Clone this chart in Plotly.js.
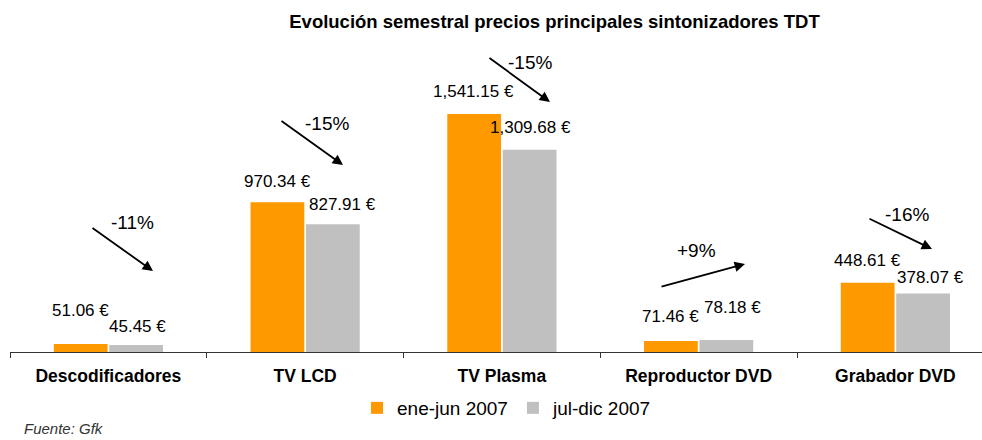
<!DOCTYPE html>
<html>
<head>
<meta charset="utf-8">
<script src="https://cdn.plot.ly/plotly-3.0.1.min.js"></script>
<style>html,body{margin:0;padding:0;background:#fff;}#chart{width:982px;height:440px;}</style>
</head>
<body>
<div id="chart"></div>
<script>
// ---- data ----
const categories = ['Descodificadores', 'TV LCD', 'TV Plasma', 'Reproductor DVD', 'Grabador DVD'];
const seriesNames = ['ene-jun 2007', 'jul-dic 2007'];
const eneJun = [51.06, 970.34, 1541.15, 71.46, 448.61];
const julDic = [45.45, 827.91, 1309.68, 78.18, 378.07];
const chartTitle = 'Evolución semestral precios principales sintonizadores TDT';
const sourceNote = 'Fuente: Gfk';

// ---- helpers ----
function fmtEuro(v) {
  const parts = v.toFixed(2).split('.');
  parts[0] = parts[0].replace(/\B(?=(\d{3})+(?!\d))/g, ',');
  return parts.join('.') + ' €';
}
function fmtPct(a, b) {
  const p = Math.round((b / a - 1) * 100);
  return (p > 0 ? '+' : '') + p + '%';
}

const FONT = 'Liberation Sans, Arial, sans-serif';
const W = 982, H = 440, L = 10, R = 0, T = 74, B = 88;
const PW = W - L - R, PH = H - T - B;
const px2x = px => (px - L) / PW;
const py2y = py => (H - B - py) / PH;

const traces = [
  {type: 'bar', name: seriesNames[0], x: categories, y: eneJun, marker: {color: '#FF9900'}},
  {type: 'bar', name: seriesNames[1], x: categories, y: julDic, marker: {color: '#C0C0C0'}}
];

const annotations = [];
// value labels (layout offsets only)
const orangeShiftY = [34, 21, 22, 24, 22];
const grayShiftY = [18, 20, 22, 32, 16];
const grayShiftX = [29, 37, 29, 34, 35];
categories.forEach((c, i) => {
  annotations.push({xref: 'x', yref: 'y', x: c, y: eneJun[i], text: fmtEuro(eneJun[i]),
    showarrow: false, xshift: -28, yshift: orangeShiftY[i], yanchor: 'middle', xanchor: 'center',
    font: {family: FONT, size: 17, color: '#000'}});
  annotations.push({xref: 'x', yref: 'y', x: c, y: julDic[i], text: fmtEuro(julDic[i]),
    showarrow: false, xshift: grayShiftX[i], yshift: grayShiftY[i], yanchor: 'middle', xanchor: 'center',
    font: {family: FONT, size: 17, color: '#000'}});
});

// change arrows and percentages (pixel layout)
const pctPos = [[132, 222], [327, 123], [530, 62], [696, 250], [907, 214]];
const arrows = [[153, 271, -62, -44], [343, 165, -63, -45], [550, 102, -62, -45], [745, 264, -85, 23], [932, 249, -64, -31]];
categories.forEach((c, i) => {
  annotations.push({xref: 'paper', yref: 'paper', x: px2x(pctPos[i][0]), y: py2y(pctPos[i][1]),
    text: fmtPct(eneJun[i], julDic[i]), showarrow: false, xanchor: 'center', yanchor: 'middle',
    font: {family: FONT, size: 19, color: '#000'}});
  const a = arrows[i];
  annotations.push({xref: 'paper', yref: 'paper', x: px2x(a[0]), y: py2y(a[1]), text: '',
    showarrow: true, ax: a[2], ay: a[3], arrowhead: 2, arrowsize: 1.15, arrowwidth: 1.8,
    arrowcolor: '#000', standoff: 0, startstandoff: 0});
});

annotations.push({xref: 'paper', yref: 'paper', x: px2x(22), y: py2y(439), text: sourceNote,
  showarrow: false, xanchor: 'left', yanchor: 'bottom',
  font: {family: FONT, size: 15, color: '#333', style: 'italic'}});

const layout = {
  width: W, height: H,
  margin: {l: L, r: R, t: T, b: B, pad: 0},
  paper_bgcolor: '#fff', plot_bgcolor: '#fff',
  title: {text: '<b>' + chartTitle + '</b>', xref: 'container', yref: 'container',
    x: 554.5 / W, xanchor: 'center', y: 1 - 22 / H, yanchor: 'middle',
    font: {family: FONT, size: 18.5, color: '#000'}},
  barmode: 'group', bargap: 0.4365, bargroupgap: 0.03,
  xaxis: {type: 'category', range: [-0.5, -0.5 + PW / 196.75], showline: true, linecolor: '#333', linewidth: 1,
    ticks: 'outside', tickson: 'boundaries', ticklen: 5, tickcolor: '#333', showgrid: false, zeroline: false,
    ticklabelstandoff: 8,
    tickfont: {family: FONT, size: 17.5, color: '#000', weight: 'bold'}},
  yaxis: {range: [0, 1800], visible: false, showgrid: false, zeroline: false},
  showlegend: true,
  legend: {orientation: 'h', x: px2x(507), xanchor: 'center', y: py2y(408), yanchor: 'middle',
    font: {family: FONT, size: 19, color: '#000'}, bgcolor: 'rgba(0,0,0,0)', traceorder: 'normal'},
  hovermode: false,
  annotations: annotations
};

Plotly.newPlot('chart', traces, layout, {staticPlot: true, displayModeBar: false});
</script>
</body>
</html>
